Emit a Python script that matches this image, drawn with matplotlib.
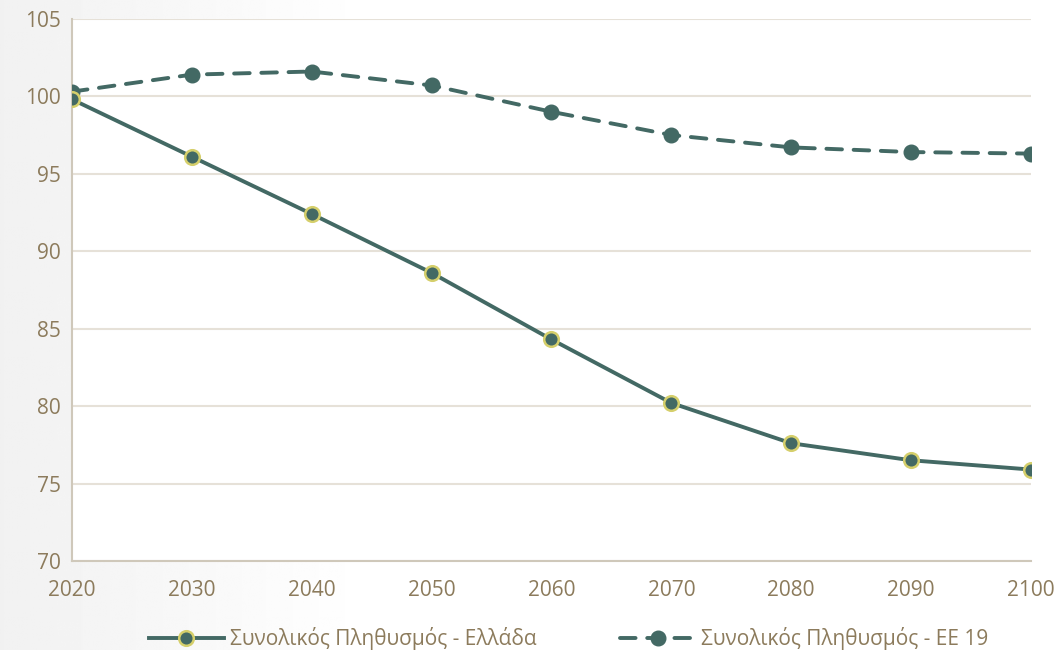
import numpy as np
import matplotlib.pyplot as plt

# data
years = [2020, 2030, 2040, 2050, 2060, 2070, 2080, 2090, 2100]
greece = [99.8, 96.1, 92.4, 88.6, 84.3, 80.2, 77.6, 76.5, 75.9]
eu19 = [100.3, 101.4, 101.6, 100.7, 99.0, 97.5, 96.7, 96.4, 96.3]
label_gr = 'Συνολικός Πληθυσμός - Ελλάδα'
label_eu = 'Συνολικός Πληθυσμός - ΕΕ 19'

line_col = '#436964'
edge_col = '#D5CF6B'
text_col = '#8C7B5C'
grid_col = '#E6E1D8'

plt.rcParams['font.family'] = ['Open Sans', 'DejaVu Sans']

fig = plt.figure(figsize=(10.59, 6.5), dpi=100)

# soft gray gradient on the left side of the background
bg = fig.add_axes([0, 0, 1, 1], zorder=-10)
grad = np.linspace(0, 1, 400)
shade = 0.945 + 0.055 * np.clip(grad / 0.35, 0, 1)
bg.imshow(np.tile(shade, (10, 1)), aspect='auto', cmap='gray', vmin=0, vmax=1,
          extent=[0, 1, 0, 1])
bg.axis('off')

ax = fig.add_axes([0.068, 0.137, 0.9055, 0.834])
ax.set_facecolor('white')

ax.plot(years, eu19, color=line_col, lw=2.8, ls=(0, (4, 3)), marker='o',
        markersize=10.5, markerfacecolor=line_col, markeredgecolor=line_col,
        label=label_eu, zorder=3, solid_capstyle='round', dash_capstyle='round')
ax.plot(years, greece, color=line_col, lw=2.8, marker='o', markersize=10.5,
        markerfacecolor=line_col, markeredgecolor=edge_col, markeredgewidth=1.8,
        label=label_gr, zorder=4)

ax.set_xlim(2020, 2100)
ax.set_ylim(70, 105)
ax.set_xticks(years)
ax.set_yticks(range(70, 106, 5))
ax.grid(axis='y', color=grid_col, lw=1.5)
ax.set_axisbelow(True)
for s in ['top', 'right']:
    ax.spines[s].set_visible(False)
for s in ['left', 'bottom']:
    ax.spines[s].set_color('#CFC8BA')
    ax.spines[s].set_linewidth(1.5)
ax.tick_params(length=0, labelsize=15, colors=text_col, pad=14)
ax.tick_params(axis='y', pad=8)

handles, labels = ax.get_legend_handles_labels()
leg = fig.legend(handles[::-1], labels[::-1], loc='center', bbox_to_anchor=(0.537, 0.017),
                 ncol=2, frameon=False, fontsize=15, handlelength=3.6,
                 columnspacing=4.0, handletextpad=0.3)
for t in leg.get_texts():
    t.set_color(text_col)

fig.savefig('out.png', dpi=100)
